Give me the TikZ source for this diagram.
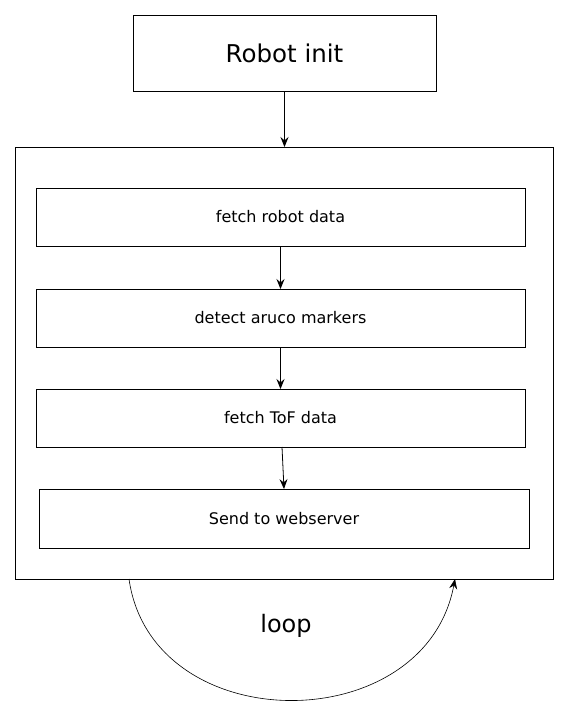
\documentclass[tikz,border=0pt]{standalone}
\usepackage{fontspec}
\setmainfont{DejaVu Sans}
\usetikzlibrary{arrows.meta,calc}
\begin{document}
\begin{tikzpicture}[x=1pt,y=1pt,
  box/.style={draw,line width=0.8pt,inner sep=0pt,outer sep=0pt,minimum width=489,minimum height=58,font=\fontsize{16}{19}\selectfont},
  bigbox/.style={draw,line width=0.8pt,inner sep=0pt,outer sep=0pt},
  conn/.style={line width=0.8pt,-{Stealth[length=10pt,width=8pt,inset=3.5pt]}}]
\useasboundingbox (0,0) rectangle (568,-716);
\node[bigbox,minimum width=303,minimum height=76,font=\fontsize{24.5}{29}\selectfont] (init) at (284.5,-53) {Robot init};
\node[bigbox,minimum width=538,minimum height=432] (outer) at (284,-363) {};
\node[box] (fetch) at (280.5,-217) {fetch robot data};
\node[box] (aruco) at (280.5,-318) {detect aruco markers};
\node[box] (tof) at (280.5,-418) {fetch ToF data};
\node[box,minimum width=490,minimum height=59] (send) at (284,-518.5) {Send to webserver};
\node[font=\fontsize{24}{29}\selectfont] (loop) at (286,-626) {loop};
\coordinate (ls) at (129,-579);
\coordinate (le) at (455,-579);
\coordinate (tofout) at ($(tof.south)+(1.5,0)$);
\draw[conn] (init.south) -- (init.south |- outer.north);
\draw[conn] (fetch.south) -- (aruco.north);
\draw[conn] (aruco.south) -- (tof.north);
\draw[conn] (tofout) -- (send.north);
\draw[line width=0.6pt,-{Stealth[length=10pt,width=8pt,inset=3.5pt]}] (ls) .. controls (152,-740) and (425,-740) .. (le);
\end{tikzpicture}
\end{document}
